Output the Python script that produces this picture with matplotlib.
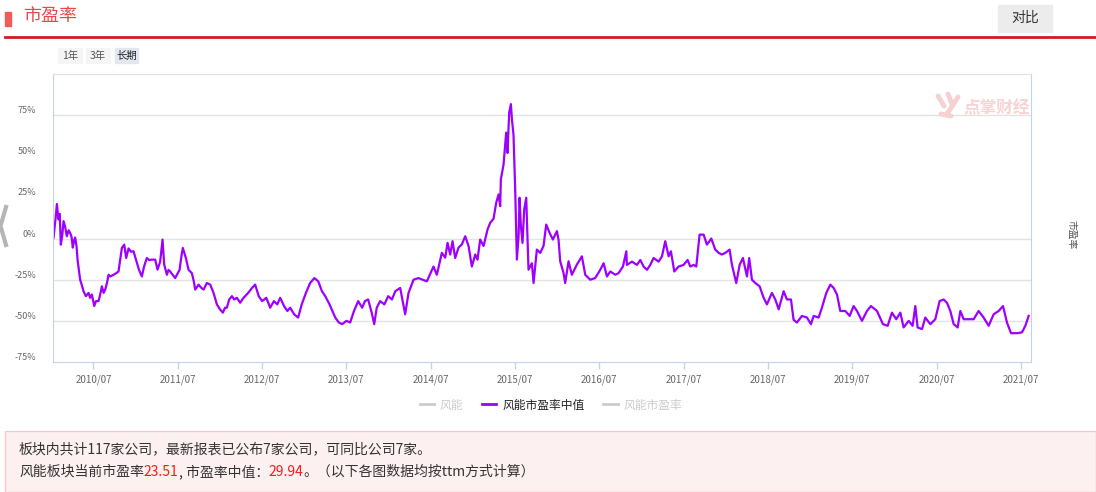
import matplotlib
matplotlib.use('Agg')
import matplotlib.pyplot as plt
import matplotlib.transforms as mtransforms
from matplotlib.lines import Line2D
from matplotlib.patches import Rectangle
from matplotlib.text import Annotation

plt.rcParams['font.family'] = ['Noto Sans CJK SC', 'DejaVu Sans']

# 风能市盈率中值, x in decimal years, y in %
years = [
    2010.026, 2010.05, 2010.066, 2010.085, 2010.10, 2010.113, 2010.13, 2010.145, 2010.165, 2010.184,
    2010.205, 2010.224, 2010.24, 2010.255, 2010.27, 2010.283, 2010.30, 2010.311, 2010.342, 2010.36,
    2010.382, 2010.41, 2010.441, 2010.46, 2010.481, 2010.509, 2010.53, 2010.56, 2010.58, 2010.60,
    2010.62, 2010.639, 2010.66, 2010.679, 2010.70, 2010.738, 2010.77, 2010.797, 2010.82, 2010.837,
    2010.865, 2010.888, 2010.916, 2010.945, 2010.975, 2011.015, 2011.04, 2011.074, 2011.10, 2011.133,
    2011.16, 2011.193, 2011.232, 2011.26, 2011.291, 2011.319, 2011.339, 2011.371, 2011.39, 2011.41,
    2011.44, 2011.469, 2011.50, 2011.521, 2011.545, 2011.56, 2011.58, 2011.596, 2011.628, 2011.667,
    2011.69, 2011.707, 2011.746, 2011.78, 2011.806, 2011.845, 2011.885, 2011.924, 2011.964, 2012.00,
    2012.035, 2012.06, 2012.082, 2012.11, 2012.142, 2012.17, 2012.201, 2012.24,
    2012.28, 2012.335, 2012.38, 2012.418, 2012.46, 2012.50, 2012.55, 2012.596, 2012.64, 2012.68,
    2012.715, 2012.76, 2012.80, 2012.833, 2012.88, 2012.928, 2012.97, 2013.02, 2013.07, 2013.12,
    2013.166, 2013.21, 2013.249, 2013.30, 2013.368, 2013.41, 2013.45, 2013.50, 2013.545, 2013.59,
    2013.64, 2013.687, 2013.72, 2013.758, 2013.80, 2013.83, 2013.86, 2013.90, 2013.95, 2013.996,
    2014.04, 2014.08, 2014.138, 2014.197, 2014.237,
    2014.296, 2014.355, 2014.454, 2014.533, 2014.573, 2014.632, 2014.672, 2014.70, 2014.731, 2014.759,
    2014.79, 2014.83, 2014.87, 2014.909, 2014.949, 2014.988, 2015.028, 2015.055, 2015.087, 2015.127,
    2015.174, 2015.206, 2015.245, 2015.277, 2015.305, 2015.324, 2015.332, 2015.364, 2015.395, 2015.411,
    2015.431, 2015.451, 2015.463, 2015.482, 2015.502, 2015.522, 2015.542, 2015.554, 2015.569, 2015.589,
    2015.609, 2015.633, 2015.66, 2015.70, 2015.72, 2015.759, 2015.799, 2015.838, 2015.87, 2015.91,
    2015.949, 2015.997, 2016.016, 2016.036, 2016.076, 2016.095, 2016.135, 2016.174, 2016.234, 2016.293,
    2016.333, 2016.392, 2016.451, 2016.511,
    2016.551, 2016.59, 2016.63, 2016.689, 2016.728, 2016.78, 2016.82, 2016.827, 2016.887, 2016.946,
    2016.986, 2017.025, 2017.065, 2017.104, 2017.144, 2017.203, 2017.243, 2017.282, 2017.322, 2017.349,
    2017.389, 2017.44, 2017.50, 2017.547, 2017.579, 2017.618, 2017.65, 2017.689, 2017.737, 2017.776,
    2017.828, 2017.875, 2017.915, 2017.954, 2017.994, 2018.045, 2018.073, 2018.124, 2018.164, 2018.203,
    2018.251, 2018.278, 2018.31, 2018.35, 2018.401, 2018.449, 2018.488, 2018.547, 2018.587, 2018.627,
    2018.686, 2018.725, 2018.773, 2018.804, 2018.844, 2018.903, 2018.963, 2019.01, 2019.042, 2019.101,
    2019.14, 2019.192, 2019.24, 2019.279, 2019.319, 2019.358, 2019.418, 2019.469, 2019.516, 2019.556,
    2019.615, 2019.674, 2019.722, 2019.793, 2019.864, 2019.92, 2019.971, 2020.022, 2020.07, 2020.109,
    2020.169, 2020.216, 2020.248, 2020.275, 2020.327, 2020.366, 2020.426, 2020.485, 2020.536, 2020.584,
    2020.623, 2020.663, 2020.703, 2020.75, 2020.782, 2020.821, 2020.88, 2020.94, 2020.999, 2021.058,
    2021.118, 2021.177, 2021.236, 2021.288, 2021.335, 2021.383, 2021.454, 2021.513, 2021.553, 2021.592,
]
median_pe = [
    0.4, 12, 21, 11.6, 15, -3.7, 2, 10.6, 7, 1.4,
    5, 3.4, 1, -5.5, -1, 0.6, -5, -12.8, -25, -28,
    -32, -35, -33, -36, -34, -41, -38, -38, -34, -29,
    -33, -31, -27, -22, -23, -22, -21, -20, -12, -5.7,
    -3.7, -11.8, -6, -8, -7.7, -14.8, -19, -23, -17, -11.8,
    -13, -12.8, -12.8, -18.9, -14, -0.6, -15.8, -22, -19, -20,
    -22, -24, -21, -19, -10, -5.7, -9, -11.8, -19, -21,
    -26, -31, -28, -30, -31, -27, -28, -33, -40, -43,
    -45, -42, -42, -37, -35, -37, -36, -39,
    -36, -33, -30, -28, -35, -38, -36, -42, -38, -40,
    -36, -41, -44, -42, -46, -48, -40, -33, -27, -24,
    -26, -32, -35, -40, -48, -51, -52, -50, -51, -44,
    -38, -42, -38, -37, -45, -52, -42, -38, -40, -35,
    -37, -32, -30, -46, -33,
    -25, -24, -26, -17, -22, -8.7, -11.6, -2.6, -9.7, -1.6,
    -11.8, -5.5, -3.5, 1.4, -4.5, -17, -9.7, -12.8, -0.6, -4.5,
    5.5, 9.6, 12, 21.8, 26.8, 19.7, 36, 45, 64.4, 52,
    76.6, 81.7, 72.6, 63, 30, -12.8, 1.4, 24.8, 8, -2.6,
    17.7, 24.8, -18.9, -15, -27, -6.7, -8.7, -4.5, 8.5, 3.5,
    -0.6, 4.5, -0.6, -13.8, -21, -27, -13.8, -22, -15.8, -10.8,
    -22, -25, -24, -19,
    -15, -23, -20, -22, -21, -17, -7.7, -16, -14, -16,
    -13, -17, -19, -16, -11.8, -14, -10.8, -1.6, -10.8, -7.7,
    -20, -17, -16, -13, -17, -16, -17, 2.4, 2.4, -3.7,
    0, -6.7, -8.7, -9.7, -8.7, -6.7, -16, -27, -16, -11.8,
    -23, -11.8, -25, -27, -29, -36, -40, -33, -37, -43,
    -32, -37, -37, -49.4, -51, -47, -48, -52, -47, -48,
    -42, -33, -28, -30, -34, -44, -44, -47, -41, -44,
    -50, -44, -41, -44, -52, -53, -45, -49, -45, -54,
    -50, -53, -41, -54, -55, -48, -52, -49, -38, -37,
    -39, -44, -52, -54, -44, -49, -49, -49, -44, -48,
    -53, -46, -44, -41, -51, -57.5, -57.5, -57, -53, -47,
]

tick_years = [2010.5, 2011.5, 2012.5, 2013.5, 2014.5, 2015.5, 2016.5, 2017.5, 2018.5, 2019.5, 2020.5, 2021.5]
tick_labels = ['2010/07', '2011/07', '2012/07', '2013/07', '2014/07', '2015/07',
               '2016/07', '2017/07', '2018/07', '2019/07', '2020/07', '2021/07']
y_ticks = [75, 50, 25, 0, -25, -50, -75]
y_grid = [75, 0, -25, -50]
legend_names = ['风能', '风能市盈率中值', '风能市盈率']
pe_now = '23.51'
pe_median = '29.94'

W, H = 1096, 492
fig = plt.figure(figsize=(W / 100, H / 100), dpi=100)


def px(x, y):
    return x / W, 1 - y / H


# header
fig.patches.append(Rectangle(px(5, 26), 6 / W, 14 / H, transform=fig.transFigure, color='#f25b5b'))
fig.text(*px(23, 16), '市盈率', color='#e5474b', fontsize=13, va='center', ha='left')
fig.lines.append(Line2D([5 / W, 1.0], [1 - 37 / H] * 2, transform=fig.transFigure, color='#d7191f', lw=2))
fig.patches.append(Rectangle(px(998, 32), 54 / W, 27 / H, transform=fig.transFigure, color='#ececec'))
fig.text(*px(1025, 18), '对比', color='#333333', fontsize=10, va='center', ha='center')

for (x0, x1, label, bg, fg) in [(58, 82, '1年', '#f5f5f5', '#555555'),
                                (86, 110, '3年', '#f5f5f5', '#555555'),
                                (115, 138, '长期', '#e3e7ef', '#222222')]:
    fig.patches.append(Rectangle(px(x0, 63), (x1 - x0) / W, 15 / H, transform=fig.transFigure, color=bg))
    fig.text(*px((x0 + x1) / 2, 55.5), label, color=fg, fontsize=7.5, va='center', ha='center')

# left arrow
fig.lines.append(Line2D([6 / W, 0.5 / W, 6 / W], [1 - 207 / H, 1 - 226 / H, 1 - 245 / H],
                        transform=fig.transFigure, color='#b5b5b5', lw=3))

# chart
ax = fig.add_axes([53 / W, 1 - 362 / H, (1031 - 53) / W, (362 - 74) / H])
for v in y_grid:
    ax.axhline(v, color='#e3e3e3', lw=1, zorder=0)
ax.plot(years, median_pe, color='#9d00ff', lw=1.6, zorder=2)
ax.set_xlim(2010.02, 2021.62)
ax.set_ylim(-75, 100)
ax.set_xticks(tick_years)
ax.set_xticklabels(tick_labels)
ax.set_yticks(y_ticks)
ax.set_yticklabels([f'{v}%' for v in y_ticks])
ax.tick_params(axis='x', colors='#c5d3ea', length=5, width=1, labelcolor='#666666', labelsize=7, pad=4)
ax.tick_params(axis='y', length=0, labelcolor='#666666', labelsize=6.5, pad=12)
offset = mtransforms.ScaledTranslation(0, 4 / 72, fig.dpi_scale_trans)
for lab in ax.get_yticklabels():
    lab.set_transform(lab.get_transform() + offset)
for side in ['left', 'bottom', 'right']:
    ax.spines[side].set_color('#c5d3ea')
ax.spines['top'].set_color('#e0e0e0')

# watermark: logo strokes + name
for xs, ys in [([938, 944], [96, 106]), ([948, 952], [94, 104]), ([958, 947], [97, 114]), ([941, 951], [114, 116])]:
    fig.lines.append(Line2D([x / W for x in xs], [1 - y / H for y in ys], transform=fig.transFigure,
                            color='#f7d0d0', lw=3.5, solid_capstyle='round'))
fig.text(*px(997, 108), '点掌财经', color='#f7d3d3', fontsize=12, fontweight='bold', va='center', ha='center')

fig.text(*px(1072, 235), '市盈率', color='#555555', fontsize=7, rotation=-90, va='center', ha='center')

# legend
handles = [Line2D([], [], color='#cccccc', lw=2),
           Line2D([], [], color='#9d00ff', lw=2),
           Line2D([], [], color='#cccccc', lw=2)]
leg = fig.legend(handles, legend_names, ncol=3, loc='center', bbox_to_anchor=(551 / W, 1 - 405 / H),
                 frameon=False, handlelength=1.2, handletextpad=0.5, columnspacing=1.6, fontsize=8.5)
for txt, c in zip(leg.get_texts(), ['#cccccc', '#222222', '#cccccc']):
    txt.set_color(c)

# info box
fig.patches.append(Rectangle(px(5, 492), (W - 5) / W, 61 / H, transform=fig.transFigure,
                             facecolor='#fdf0f0', edgecolor='#f5c8c8', lw=1))
fig.text(*px(19, 449), '板块内共计117家公司，最新报表已公布7家公司，可同比公司7家。',
         color='#333333', fontsize=10, va='center', ha='left')
prev = fig.text(*px(19, 472), '风能板块当前市盈率', color='#333333', fontsize=10, va='center', ha='left')
segments = [(pe_now, '#ff1a1a'), (', 市盈率中值：', '#333333'), (pe_median, '#ff1a1a'),
            ('。（以下各图数据均按ttm方式计算）', '#333333')]
for s, c in segments:
    a = Annotation(s, xy=(1, 0.5), xycoords=prev, xytext=(0, 0), textcoords='offset points',
                   color=c, fontsize=10, va='center', ha='left')
    fig.add_artist(a)
    prev = a

fig.savefig('out.png', dpi=100)
